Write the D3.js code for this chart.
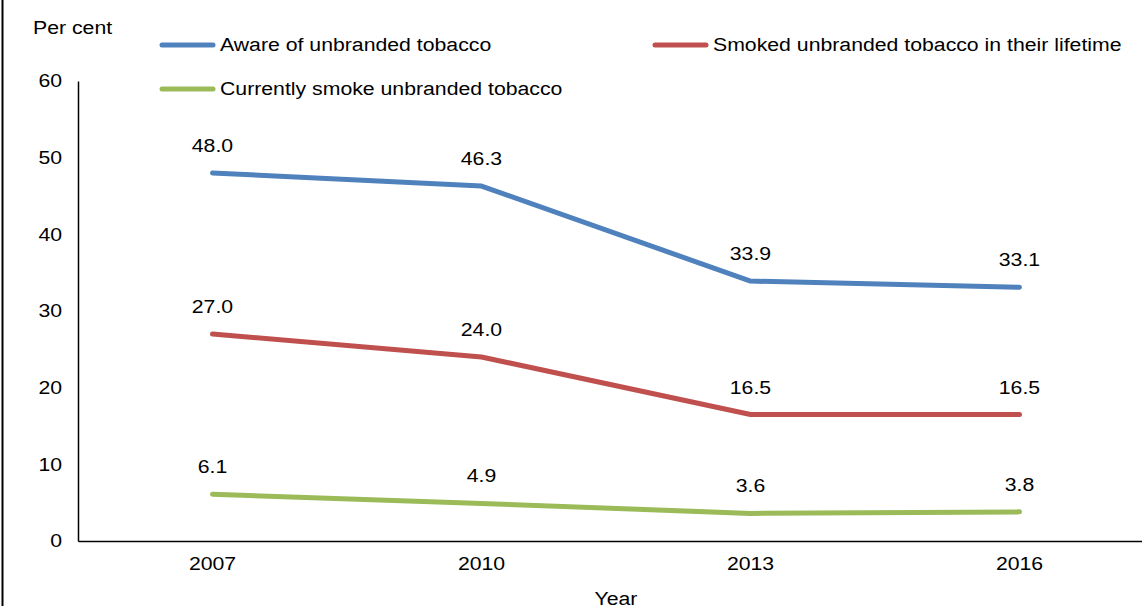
<!DOCTYPE html>
<html><head><meta charset="utf-8">
<script src="https://cdn.jsdelivr.net/npm/d3@7"></script>
<style>body{margin:0;background:#fff}svg{display:block;font-family:"Liberation Sans",Arial,sans-serif}</style>
</head><body><svg id="c" width="1142" height="606"></svg>
<script>
const years = ["2007","2010","2013","2016"];
const aware = [48.0,46.3,33.9,33.1];
const lifetime = [27.0,24.0,16.5,16.5];
const current = [6.1,4.9,3.6,3.8];
const seriesNames = ["Aware of unbranded tobacco","Smoked unbranded tobacco in their lifetime","Currently smoke unbranded tobacco"];
const yTicks = [0,10,20,30,40,50,60];
const colors = ["#4F81BD","#C0504D","#9BBB59"];
const series = [aware,lifetime,current];

const FS = 18, STRETCH = 1.18;
const svg = d3.select("#c");
const x0 = 78, x1 = 1154, yTop = 81, yBot = 541;
const x = d3.scaleBand().domain(years).range([x0,x1]);
const y = d3.scaleLinear().domain([0,60]).range([yBot,yTop]);

// border
svg.append("line").attr("x1",2.5).attr("x2",2.5).attr("y1",0).attr("y2",606).attr("stroke","#000").attr("stroke-width",2);

// axes
const gx = svg.append("g").attr("transform",`translate(0,${yBot})`).call(d3.axisBottom(x).tickSize(0).tickPadding(16));
gx.select(".domain").attr("stroke","#000").attr("stroke-width",1.5);
gx.selectAll("text").attr("font-size",FS).attr("font-family","Liberation Sans, Arial, sans-serif").attr("fill","#000");
const gy = svg.append("g").attr("transform",`translate(${x0},0)`).call(d3.axisLeft(y).tickValues(yTicks).tickSize(0).tickPadding(16));
gy.select(".domain").attr("stroke","#000").attr("stroke-width",1.5);
gy.selectAll("text").attr("font-size",FS).attr("font-family","Liberation Sans, Arial, sans-serif").attr("fill","#000");

// titles
svg.append("text").attr("x",33).attr("y",34).attr("font-size",FS).text("Per cent");
svg.append("text").attr("x",(x0+x1)/2).attr("y",605).attr("text-anchor","middle").attr("font-size",FS).text("Year");

const line = d3.line().x((d,i)=>x(years[i])+x.bandwidth()/2).y(d=>y(d));
series.forEach((s,k)=>{
  svg.append("path").datum(s).attr("d",line).attr("fill","none").attr("stroke",colors[k])
    .attr("stroke-width",5).attr("stroke-linecap","round").attr("stroke-linejoin","round");
  svg.selectAll(null).data(s).enter().append("text")
    .attr("x",(d,i)=>x(years[i])+x.bandwidth()/2).attr("y",d=>y(d)-21)
    .attr("text-anchor","middle").attr("font-size",FS).text(d=>d.toFixed(1));
});

// legend
const leg = [{x:162,y:45},{x:655,y:45},{x:162,y:89}];
seriesNames.forEach((n,k)=>{
  const p = leg[k];
  svg.append("line").attr("x1",p.x).attr("x2",p.x+51).attr("y1",p.y).attr("y2",p.y)
    .attr("stroke",colors[k]).attr("stroke-width",5).attr("stroke-linecap","round");
  svg.append("text").attr("x",p.x+58).attr("y",p.y+6).attr("font-size",FS).text(n);
});

// horizontal stretch of text to match reference proportions
svg.selectAll("text").each(function(){
  const w = this.getComputedTextLength();
  d3.select(this).attr("textLength",w*STRETCH).attr("lengthAdjust","spacingAndGlyphs");
});
</script></body></html>
